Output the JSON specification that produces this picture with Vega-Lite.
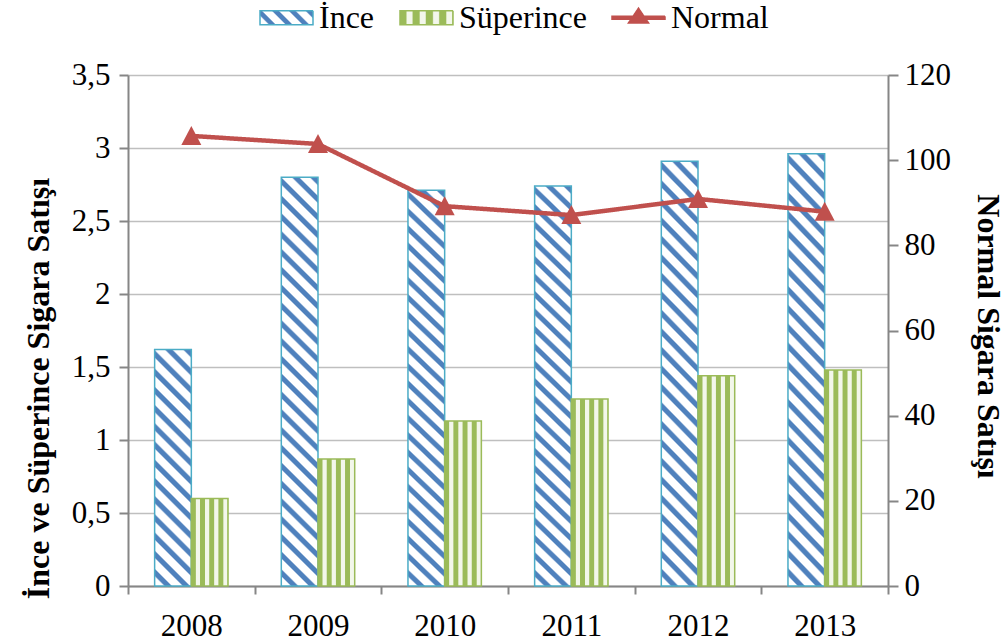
{
  "$schema": "https://vega.github.io/schema/vega-lite/v6.json",
  "width": 760,
  "height": 511,
  "autosize": {"type": "none"},
  "padding": {"left": 128, "top": 75, "right": 117, "bottom": 58},
  "background": "#FFFFFF",
  "data": {
    "values": [
      {"year": "2008", "series": "İnce", "value": 1.62},
      {"year": "2009", "series": "İnce", "value": 2.80},
      {"year": "2010", "series": "İnce", "value": 2.71},
      {"year": "2011", "series": "İnce", "value": 2.74},
      {"year": "2012", "series": "İnce", "value": 2.91},
      {"year": "2013", "series": "İnce", "value": 2.96},
      {"year": "2008", "series": "Süperince", "value": 0.60},
      {"year": "2009", "series": "Süperince", "value": 0.87},
      {"year": "2010", "series": "Süperince", "value": 1.13},
      {"year": "2011", "series": "Süperince", "value": 1.28},
      {"year": "2012", "series": "Süperince", "value": 1.44},
      {"year": "2013", "series": "Süperince", "value": 1.48},
      {"year": "2008", "series": "Normal", "value": 105.7},
      {"year": "2009", "series": "Normal", "value": 103.8},
      {"year": "2010", "series": "Normal", "value": 89.2},
      {"year": "2011", "series": "Normal", "value": 87.1},
      {"year": "2012", "series": "Normal", "value": 90.9},
      {"year": "2013", "series": "Normal", "value": 87.9}
    ]
  },
  "layer": [
    {
      "transform": [{"filter": "datum.series !== 'Normal'"}],
      "mark": {"type": "bar", "strokeWidth": 1.5},
      "encoding": {
        "x": {
          "field": "year",
          "type": "nominal",
          "scale": {"paddingInner": 0, "paddingOuter": 0},
          "axis": {
            "title": null,
            "labelAngle": 0,
            "tickBand": "extent",
            "tickSize": 8,
            "labelPadding": 17,
            "grid": false
          }
        },
        "xOffset": {
          "field": "series",
          "scale": {"domain": ["İnce", "Süperince"], "paddingInner": 0, "paddingOuter": 0.7257}
        },
        "y": {
          "field": "value",
          "type": "quantitative",
          "scale": {"domain": [0, 3.5], "nice": false},
          "axis": {
            "values": [0, 0.5, 1, 1.5, 2, 2.5, 3, 3.5],
            "labelExpr": "replace(format(datum.value, '~g'), '.', ',')",
            "tickSize": 9,
            "labelPadding": 9,
            "grid": true,
            "title": "İnce ve Süperince Sigara Satışı",
            "titleAngle": -90,
            "titleX": -80,
            "titleY": 313,
            "titleAlign": "center",
            "titleBaseline": "alphabetic"
          }
        },
        "fill": {
          "condition": [
            {
              "test": "datum.series === 'Süperince'",
              "value": {
                "gradient": "linear", "x1": 0, "y1": 0, "x2": 1, "y2": 0,
                "stops": [
                  {"offset": 0, "color": "#9BBB59"}, {"offset": 0.11, "color": "#9BBB59"},
                  {"offset": 0.135, "color": "#F3F7EB"}, {"offset": 0.225, "color": "#F3F7EB"},
                  {"offset": 0.25, "color": "#9BBB59"}, {"offset": 0.36, "color": "#9BBB59"},
                  {"offset": 0.385, "color": "#F3F7EB"}, {"offset": 0.475, "color": "#F3F7EB"},
                  {"offset": 0.5, "color": "#9BBB59"}, {"offset": 0.61, "color": "#9BBB59"},
                  {"offset": 0.635, "color": "#F3F7EB"}, {"offset": 0.725, "color": "#F3F7EB"},
                  {"offset": 0.75, "color": "#9BBB59"}, {"offset": 0.86, "color": "#9BBB59"},
                  {"offset": 0.885, "color": "#F3F7EB"}, {"offset": 0.975, "color": "#F3F7EB"},
                  {"offset": 1, "color": "#9BBB59"}
                ]
              }
            },
            {
              "test": "datum.year === '2008'",
              "value": {
                "gradient": "linear", "x1": 0, "y1": 1, "x2": 0.175, "y2": -0.1278,
                "stops": [
                  {"offset": 0, "color": "#FFFFFF"},
                  {"offset": 0.0333, "color": "#FFFFFF"}, {"offset": 0.04, "color": "#4F81BD"}, {"offset": 0.06, "color": "#4F81BD"}, {"offset": 0.0667, "color": "#FFFFFF"},
                  {"offset": 0.1, "color": "#FFFFFF"}, {"offset": 0.1067, "color": "#4F81BD"}, {"offset": 0.1267, "color": "#4F81BD"}, {"offset": 0.1333, "color": "#FFFFFF"},
                  {"offset": 0.1667, "color": "#FFFFFF"}, {"offset": 0.1733, "color": "#4F81BD"}, {"offset": 0.1933, "color": "#4F81BD"}, {"offset": 0.2, "color": "#FFFFFF"},
                  {"offset": 0.2333, "color": "#FFFFFF"}, {"offset": 0.24, "color": "#4F81BD"}, {"offset": 0.26, "color": "#4F81BD"}, {"offset": 0.2667, "color": "#FFFFFF"},
                  {"offset": 0.3, "color": "#FFFFFF"}, {"offset": 0.3067, "color": "#4F81BD"}, {"offset": 0.3267, "color": "#4F81BD"}, {"offset": 0.3333, "color": "#FFFFFF"},
                  {"offset": 0.3667, "color": "#FFFFFF"}, {"offset": 0.3733, "color": "#4F81BD"}, {"offset": 0.3933, "color": "#4F81BD"}, {"offset": 0.4, "color": "#FFFFFF"},
                  {"offset": 0.4333, "color": "#FFFFFF"}, {"offset": 0.44, "color": "#4F81BD"}, {"offset": 0.46, "color": "#4F81BD"}, {"offset": 0.4667, "color": "#FFFFFF"},
                  {"offset": 0.5, "color": "#FFFFFF"}, {"offset": 0.5067, "color": "#4F81BD"}, {"offset": 0.5267, "color": "#4F81BD"}, {"offset": 0.5333, "color": "#FFFFFF"},
                  {"offset": 0.5667, "color": "#FFFFFF"}, {"offset": 0.5733, "color": "#4F81BD"}, {"offset": 0.5933, "color": "#4F81BD"}, {"offset": 0.6, "color": "#FFFFFF"},
                  {"offset": 0.6333, "color": "#FFFFFF"}, {"offset": 0.64, "color": "#4F81BD"}, {"offset": 0.66, "color": "#4F81BD"}, {"offset": 0.6667, "color": "#FFFFFF"},
                  {"offset": 0.7, "color": "#FFFFFF"}, {"offset": 0.7067, "color": "#4F81BD"}, {"offset": 0.7267, "color": "#4F81BD"}, {"offset": 0.7333, "color": "#FFFFFF"},
                  {"offset": 0.7667, "color": "#FFFFFF"}, {"offset": 0.7733, "color": "#4F81BD"}, {"offset": 0.7933, "color": "#4F81BD"}, {"offset": 0.8, "color": "#FFFFFF"},
                  {"offset": 0.8333, "color": "#FFFFFF"}, {"offset": 0.84, "color": "#4F81BD"}, {"offset": 0.86, "color": "#4F81BD"}, {"offset": 0.8667, "color": "#FFFFFF"},
                  {"offset": 0.9, "color": "#FFFFFF"}, {"offset": 0.9067, "color": "#4F81BD"}, {"offset": 0.9267, "color": "#4F81BD"}, {"offset": 0.9333, "color": "#FFFFFF"},
                  {"offset": 0.9667, "color": "#FFFFFF"}, {"offset": 0.9733, "color": "#4F81BD"}, {"offset": 0.9933, "color": "#4F81BD"}, {"offset": 1, "color": "#FFFFFF"}
                ]
              }
            }
          ],
          "value": {
            "gradient": "linear", "x1": 0, "y1": 1, "x2": 0.096, "y2": -0.08,
            "stops": [
              {"offset": 0, "color": "#FFFFFF"},
              {"offset": 0.02, "color": "#FFFFFF"}, {"offset": 0.024, "color": "#4F81BD"}, {"offset": 0.036, "color": "#4F81BD"}, {"offset": 0.04, "color": "#FFFFFF"},
              {"offset": 0.06, "color": "#FFFFFF"}, {"offset": 0.064, "color": "#4F81BD"}, {"offset": 0.076, "color": "#4F81BD"}, {"offset": 0.08, "color": "#FFFFFF"},
              {"offset": 0.1, "color": "#FFFFFF"}, {"offset": 0.104, "color": "#4F81BD"}, {"offset": 0.116, "color": "#4F81BD"}, {"offset": 0.12, "color": "#FFFFFF"},
              {"offset": 0.14, "color": "#FFFFFF"}, {"offset": 0.144, "color": "#4F81BD"}, {"offset": 0.156, "color": "#4F81BD"}, {"offset": 0.16, "color": "#FFFFFF"},
              {"offset": 0.18, "color": "#FFFFFF"}, {"offset": 0.184, "color": "#4F81BD"}, {"offset": 0.196, "color": "#4F81BD"}, {"offset": 0.2, "color": "#FFFFFF"},
              {"offset": 0.22, "color": "#FFFFFF"}, {"offset": 0.224, "color": "#4F81BD"}, {"offset": 0.236, "color": "#4F81BD"}, {"offset": 0.24, "color": "#FFFFFF"},
              {"offset": 0.26, "color": "#FFFFFF"}, {"offset": 0.264, "color": "#4F81BD"}, {"offset": 0.276, "color": "#4F81BD"}, {"offset": 0.28, "color": "#FFFFFF"},
              {"offset": 0.3, "color": "#FFFFFF"}, {"offset": 0.304, "color": "#4F81BD"}, {"offset": 0.316, "color": "#4F81BD"}, {"offset": 0.32, "color": "#FFFFFF"},
              {"offset": 0.34, "color": "#FFFFFF"}, {"offset": 0.344, "color": "#4F81BD"}, {"offset": 0.356, "color": "#4F81BD"}, {"offset": 0.36, "color": "#FFFFFF"},
              {"offset": 0.38, "color": "#FFFFFF"}, {"offset": 0.384, "color": "#4F81BD"}, {"offset": 0.396, "color": "#4F81BD"}, {"offset": 0.4, "color": "#FFFFFF"},
              {"offset": 0.42, "color": "#FFFFFF"}, {"offset": 0.424, "color": "#4F81BD"}, {"offset": 0.436, "color": "#4F81BD"}, {"offset": 0.44, "color": "#FFFFFF"},
              {"offset": 0.46, "color": "#FFFFFF"}, {"offset": 0.464, "color": "#4F81BD"}, {"offset": 0.476, "color": "#4F81BD"}, {"offset": 0.48, "color": "#FFFFFF"},
              {"offset": 0.5, "color": "#FFFFFF"}, {"offset": 0.504, "color": "#4F81BD"}, {"offset": 0.516, "color": "#4F81BD"}, {"offset": 0.52, "color": "#FFFFFF"},
              {"offset": 0.54, "color": "#FFFFFF"}, {"offset": 0.544, "color": "#4F81BD"}, {"offset": 0.556, "color": "#4F81BD"}, {"offset": 0.56, "color": "#FFFFFF"},
              {"offset": 0.58, "color": "#FFFFFF"}, {"offset": 0.584, "color": "#4F81BD"}, {"offset": 0.596, "color": "#4F81BD"}, {"offset": 0.6, "color": "#FFFFFF"},
              {"offset": 0.62, "color": "#FFFFFF"}, {"offset": 0.624, "color": "#4F81BD"}, {"offset": 0.636, "color": "#4F81BD"}, {"offset": 0.64, "color": "#FFFFFF"},
              {"offset": 0.66, "color": "#FFFFFF"}, {"offset": 0.664, "color": "#4F81BD"}, {"offset": 0.676, "color": "#4F81BD"}, {"offset": 0.68, "color": "#FFFFFF"},
              {"offset": 0.7, "color": "#FFFFFF"}, {"offset": 0.704, "color": "#4F81BD"}, {"offset": 0.716, "color": "#4F81BD"}, {"offset": 0.72, "color": "#FFFFFF"},
              {"offset": 0.74, "color": "#FFFFFF"}, {"offset": 0.744, "color": "#4F81BD"}, {"offset": 0.756, "color": "#4F81BD"}, {"offset": 0.76, "color": "#FFFFFF"},
              {"offset": 0.78, "color": "#FFFFFF"}, {"offset": 0.784, "color": "#4F81BD"}, {"offset": 0.796, "color": "#4F81BD"}, {"offset": 0.8, "color": "#FFFFFF"},
              {"offset": 0.82, "color": "#FFFFFF"}, {"offset": 0.824, "color": "#4F81BD"}, {"offset": 0.836, "color": "#4F81BD"}, {"offset": 0.84, "color": "#FFFFFF"},
              {"offset": 0.86, "color": "#FFFFFF"}, {"offset": 0.864, "color": "#4F81BD"}, {"offset": 0.876, "color": "#4F81BD"}, {"offset": 0.88, "color": "#FFFFFF"},
              {"offset": 0.9, "color": "#FFFFFF"}, {"offset": 0.904, "color": "#4F81BD"}, {"offset": 0.916, "color": "#4F81BD"}, {"offset": 0.92, "color": "#FFFFFF"},
              {"offset": 0.94, "color": "#FFFFFF"}, {"offset": 0.944, "color": "#4F81BD"}, {"offset": 0.956, "color": "#4F81BD"}, {"offset": 0.96, "color": "#FFFFFF"},
              {"offset": 0.98, "color": "#FFFFFF"}, {"offset": 0.984, "color": "#4F81BD"}, {"offset": 0.996, "color": "#4F81BD"}, {"offset": 1, "color": "#FFFFFF"}
            ]
          }
        },
        "stroke": {
          "condition": {"test": "datum.series === 'Süperince'", "value": "#9BBB59"},
          "value": "#4BACC6"
        }
      }
    },
    {
      "transform": [{"filter": "datum.series === 'Normal'"}],
      "encoding": {
        "x": {"field": "year", "type": "nominal"},
        "y": {
          "field": "value",
          "type": "quantitative",
          "scale": {"domain": [0, 120], "nice": false},
          "axis": {
            "orient": "right",
            "values": [0, 20, 40, 60, 80, 100, 120],
            "grid": false,
            "tickSize": 10,
            "labelPadding": 6,
            "title": "Normal Sigara Satışı",
            "titleAngle": 90,
            "titleX": 89,
            "titleY": 261,
            "titleAlign": "center",
            "titleBaseline": "alphabetic"
          }
        }
      },
      "layer": [
        {
          "mark": {"type": "line", "strokeWidth": 4.5, "color": "#C0504D"},
          "encoding": {
            "strokeDash": {
              "field": "series",
              "type": "nominal",
              "scale": {"domain": ["İnce", "Süperince", "Normal"], "range": [[1, 0], [1, 0], [1, 0]]},
              "legend": {
                "orient": "none",
                "legendX": 131,
                "legendY": -85,
                "direction": "horizontal",
                "columns": 3,
                "title": null,
                "labelFont": "Liberation Serif",
                "labelFontSize": 32,
                "labelColor": "#000000",
                "labelOffset": 5,
                "labelLimit": 400,
                "columnPadding": 22,
                "symbolSize": 2809,
                "symbolOpacity": 1,
                "symbolStrokeWidth": 1.5,
                "symbolType": {"expr": "datum.value === 'Normal' ? 'M-1,-0.06H1V0.06H-1Z M0,-0.36L0.38,0.2L-0.38,0.2Z' : 'M-1,-0.264H1V0.264H-1Z'"},
                "symbolStrokeColor": {"expr": "datum.value === 'İnce' ? '#4BACC6' : (datum.value === 'Süperince' ? '#9BBB59' : '#C0504D')"},
                "symbolFillColor": {"expr": "datum.value === 'İnce' ? {gradient: 'linear', x1: 0, y1: 1, x2: 1.1817, y2: 0.688, stops: [{offset: 0, color: '#FFFFFF'}, {offset: 0.125, color: '#FFFFFF'}, {offset: 0.15, color: '#4F81BD'}, {offset: 0.225, color: '#4F81BD'}, {offset: 0.25, color: '#FFFFFF'}, {offset: 0.375, color: '#FFFFFF'}, {offset: 0.4, color: '#4F81BD'}, {offset: 0.475, color: '#4F81BD'}, {offset: 0.5, color: '#FFFFFF'}, {offset: 0.625, color: '#FFFFFF'}, {offset: 0.65, color: '#4F81BD'}, {offset: 0.725, color: '#4F81BD'}, {offset: 0.75, color: '#FFFFFF'}, {offset: 0.875, color: '#FFFFFF'}, {offset: 0.9, color: '#4F81BD'}, {offset: 0.975, color: '#4F81BD'}, {offset: 1, color: '#FFFFFF'}]} : (datum.value === 'Süperince' ? {gradient: 'linear', x1: 0, y1: 0, x2: 1, y2: 0, stops: [{offset: 0, color: '#9BBB59'}, {offset: 0.11, color: '#9BBB59'}, {offset: 0.135, color: '#F3F7EB'}, {offset: 0.225, color: '#F3F7EB'}, {offset: 0.25, color: '#9BBB59'}, {offset: 0.36, color: '#9BBB59'}, {offset: 0.385, color: '#F3F7EB'}, {offset: 0.475, color: '#F3F7EB'}, {offset: 0.5, color: '#9BBB59'}, {offset: 0.61, color: '#9BBB59'}, {offset: 0.635, color: '#F3F7EB'}, {offset: 0.725, color: '#F3F7EB'}, {offset: 0.75, color: '#9BBB59'}, {offset: 0.86, color: '#9BBB59'}, {offset: 0.885, color: '#F3F7EB'}, {offset: 0.975, color: '#F3F7EB'}, {offset: 1, color: '#9BBB59'}]} : '#C0504D')"}
              }
            }
          }
        },
        {"mark": {"type": "point", "shape": "M0,-1L1,0.9L-1,0.9Z", "filled": true, "size": 400, "opacity": 1, "color": "#C0504D"}}
      ]
    }
  ],
  "resolve": {"scale": {"y": "independent"}},
  "config": {
    "view": {"stroke": null},
    "font": "Liberation Serif",
    "legend": {"labelFont": "Liberation Serif", "labelFontSize": 32, "labelColor": "#000000"},
    "axis": {
      "labelFont": "Liberation Serif",
      "labelFontSize": 31,
      "labelColor": "#000000",
      "titleFont": "Liberation Serif",
      "titleFontSize": 32,
      "titleFontWeight": "bold",
      "titleColor": "#000000",
      "domainColor": "#868686",
      "domainWidth": 2,
      "tickColor": "#868686",
      "tickWidth": 2,
      "gridColor": "#BFBFBF",
      "gridWidth": 1.5
    }
  }
}
